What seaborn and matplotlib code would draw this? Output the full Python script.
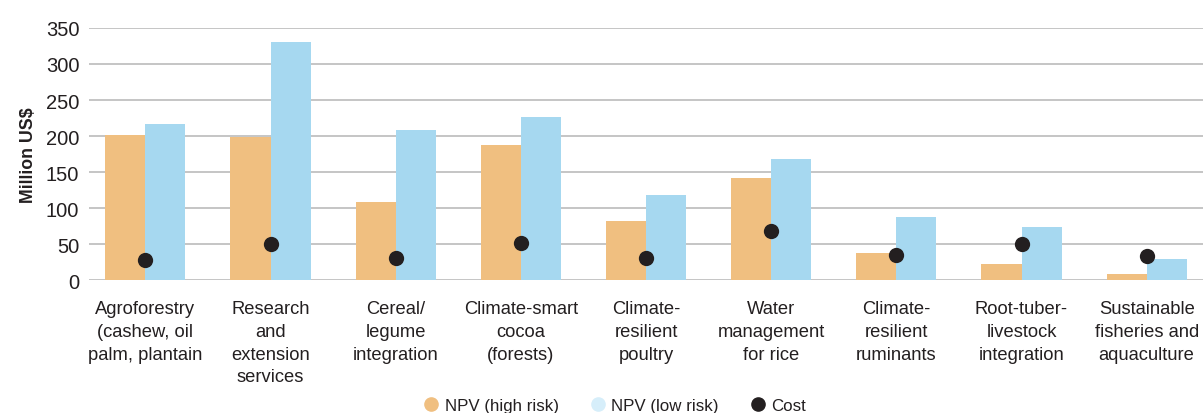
import pandas as pd
import matplotlib
matplotlib.use("Agg")
import matplotlib.pyplot as plt
from matplotlib.lines import Line2D
import seaborn as sns

categories = [
    "Agroforestry\n(cashew, oil\npalm, plantain",
    "Research\nand\nextension\nservices",
    "Cereal/\nlegume\nintegration",
    "Climate-smart\ncocoa\n(forests)",
    "Climate-\nresilient\npoultry",
    "Water\nmanagement\nfor rice",
    "Climate-\nresilient\nruminants",
    "Root-tuber-\nlivestock\nintegration",
    "Sustainable\nfisheries and\naquaculture",
]
npv_high = [201, 198, 108, 187, 82, 142, 38, 22, 9]
npv_low = [217, 330, 208, 227, 118, 168, 87, 74, 29]
cost = [28, 50, 30, 52, 30, 68, 35, 50, 33]

series_names = ["NPV (high risk)", "NPV (low risk)"]
colors = ["#F0BF80", "#A6D8F0"]
dot_color = "#231F20"

df = pd.DataFrame({
    "category": categories * 2,
    "value": npv_high + npv_low,
    "series": [series_names[0]] * len(categories) + [series_names[1]] * len(categories),
})

sns.set_style("white")
plt.rcParams["font.family"] = ["Liberation Sans", "DejaVu Sans"]

fig = plt.figure(figsize=(12.03, 4.14), dpi=100)
ax = fig.add_axes([0.074, 0.321, 0.926, 0.609])

sns.barplot(data=df, x="category", y="value", hue="series", palette=colors,
            width=0.64, gap=0, saturation=1, linewidth=0, ax=ax, legend=False, zorder=2)
sns.stripplot(x=categories, y=cost, jitter=False, color=dot_color, size=11,
              ax=ax, zorder=3)

ax.set_ylim(0, 350)
ax.set_xlim(-0.45, 8.45)
ax.set_yticks(range(0, 351, 50))
ax.yaxis.grid(True, color="#BBBBBB", linewidth=1.2, zorder=0)
ax.set_axisbelow(True)
for s in ax.spines.values():
    s.set_visible(False)
ax.tick_params(length=0)
ax.tick_params(axis="y", labelsize=14.5, labelcolor="#231F20", pad=7)
ax.tick_params(axis="x", labelsize=13.2, labelcolor="#231F20", pad=14)
for lbl in ax.get_xticklabels():
    lbl.set_linespacing(1.46)
    lbl.set_verticalalignment("top")
ax.set_xlabel("")
ax.set_ylabel("Million US$", fontsize=12.8, fontweight="bold", color="#231F20", labelpad=6)

handles = [
    Line2D([], [], marker="o", linestyle="", color=colors[0], markersize=9.5),
    Line2D([], [], marker="o", linestyle="", color="#D6EEFA", markersize=9.5),
    Line2D([], [], marker="o", linestyle="", color=dot_color, markersize=9.5),
]
fig.legend(handles, series_names + ["Cost"], loc="center", bbox_to_anchor=(0.512, 0.018),
           ncol=3, frameon=False, fontsize=12.2, handlelength=0.6, handletextpad=0.5,
           columnspacing=2.0, labelcolor="#231F20")

fig.savefig("out.png", dpi=100)
